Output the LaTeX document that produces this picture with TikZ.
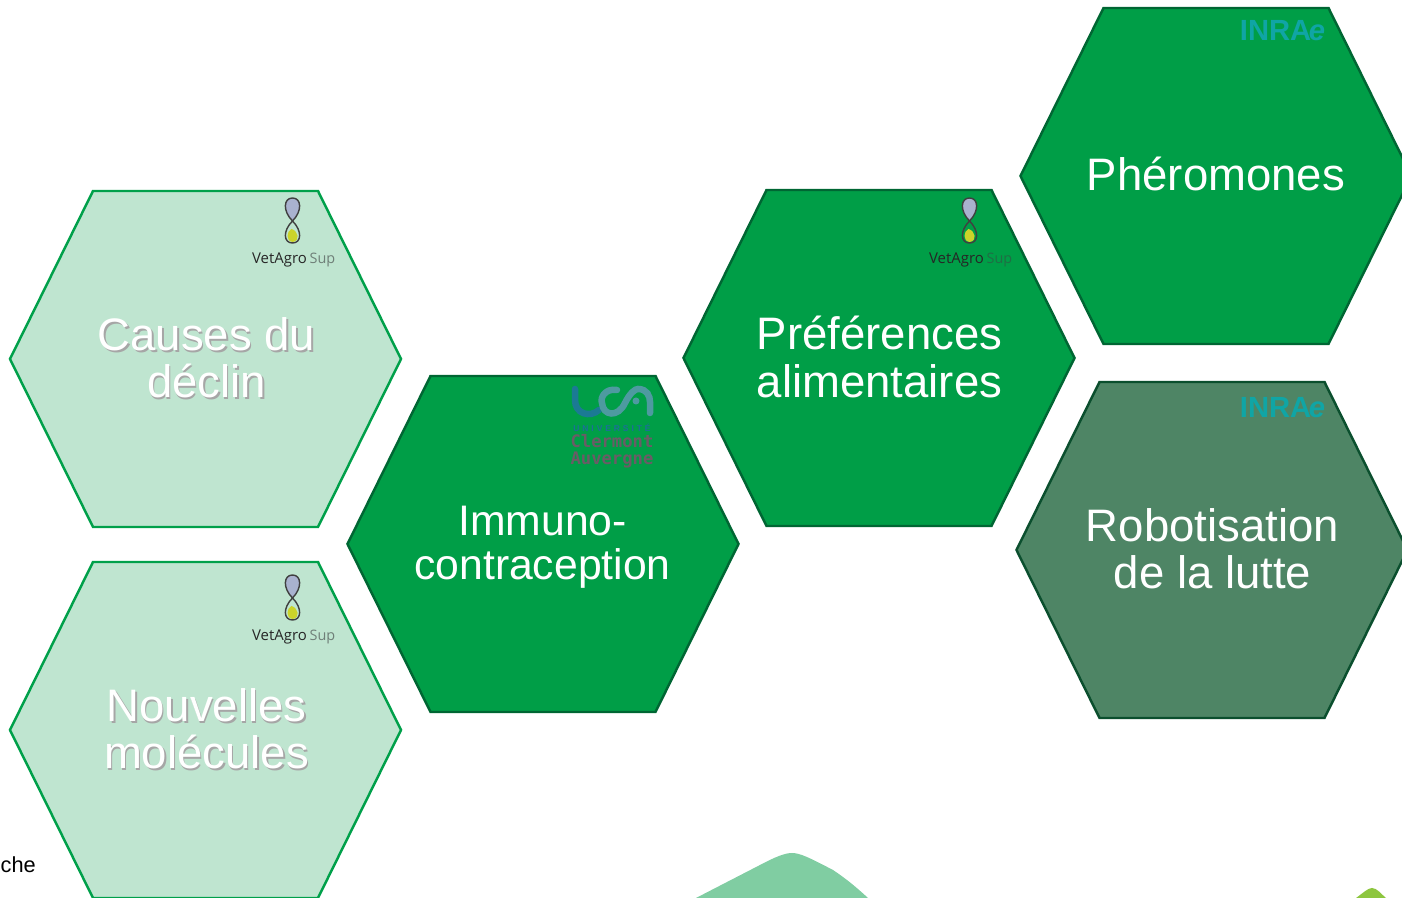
\documentclass[tikz,border=0pt]{standalone}
\usepackage{fontspec}
\setmainfont{Liberation Sans}
\newfontfamily\logofont{Open Sans}
\newfontfamily\spacedfont[LetterSpace=35]{Liberation Sans}
\newfontfamily\ucafont{DejaVu Sans Mono}
\definecolor{hexdark}{HTML}{009E47}
\definecolor{hexdarkline}{HTML}{006633}
\definecolor{hexlight}{HTML}{BFE5D0}
\definecolor{hexlightline}{HTML}{00A04A}
\definecolor{hexmoss}{HTML}{4E8565}
\definecolor{hexmossline}{HTML}{0B4F2E}
\definecolor{inraeteal}{HTML}{10A5A5}
\definecolor{ucablue}{HTML}{1B7A94}
\definecolor{ucateal}{HTML}{4E9AA0}
\definecolor{ucaletter}{HTML}{1C6F98}
\definecolor{ucamauve}{HTML}{6A5C66}
\definecolor{vetdrop}{HTML}{A9B2CF}
\definecolor{vetyellow}{HTML}{CBD32A}
\definecolor{vetsupgrey}{HTML}{6F7F78}
\definecolor{vetsupgreen}{HTML}{1F6E45}
\definecolor{peakgreen}{HTML}{80CDA2}
\definecolor{leafgreen}{HTML}{8DC63F}
\tikzset{
	cell dark/.style={fill=hexdark, draw=hexdarkline, line width=0.7pt},
	cell light/.style={fill=hexlight, draw=hexlightline, line width=0.7pt},
	cell moss/.style={fill=hexmoss, draw=hexmossline, line width=0.7pt},
	cell text/.style={align=center, text=white, font=\fontsize{12.95}{13.4}\selectfont},
	cell shadow/.style={cell text, text=black!35},
	inrae text/.style={text=inraeteal, font=\fontsize{8.3}{9}\selectfont\bfseries},
	pics/vetlogo/.style={code={
		\fill[vetdrop, draw=black!75, line width=0.4pt] (0,.37) .. controls (-.10,.47) and (-.09,.60) .. (0,.60) .. controls (.09,.60) and (.10,.47) .. (0,.37);
		\draw[black!75, line width=0.4pt] (0,.37) .. controls (-.10,.27) and (-.09,.15) .. (0,.15) .. controls (.09,.15) and (.10,.27) .. (0,.37);
		\fill[vetyellow] (0,.16) .. controls (-.07,.17) and (-.06,.27) .. (-.01,.29) .. controls (.06,.27) and (.08,.17) .. (0,.16);
		\node[font=\logofont\fontsize{4.25}{5}\selectfont, text=black!85] at (-.13,-.02) {VetAgro};
		\node[font=\logofont\fontsize{4.1}{5}\selectfont, text=#1] at (.30,-.02) {Sup};
	}},
}
\newcommand{\hexa}[2]{\draw[#1] (#2) ++(-1.955,0) -- ++(0.83,1.68) -- ++(2.25,0) -- ++(0.83,-1.68) -- ++(-0.83,-1.68) -- ++(-2.25,0) -- cycle;}
\begin{document}
\begin{tikzpicture}
	\useasboundingbox (0,0) rectangle (14.02,8.98);
	\clip (0,0) rectangle (14.02,8.98);
	\hexa{cell light}{2.055,5.39}
	\hexa{cell light}{2.055,1.68}
	\hexa{cell dark}{5.43,3.54}
	\hexa{cell dark}{8.79,5.40}
	\hexa{cell dark}{12.16,7.22}
	\hexa{cell moss}{12.12,3.48}
	\node[cell shadow] (causes shadow) at (2.08,5.385) {Causes du\\déclin};
	\node[cell text] (causes) at (2.065,5.40) {Causes du\\déclin};
	\node[cell shadow] (nouvelles shadow) at (2.08,1.675) {Nouvelles\\molécules};
	\node[cell text] (nouvelles) at (2.065,1.69) {Nouvelles\\molécules};
	\node[cell text, font=\fontsize{12.15}{12.6}\selectfont] (immuno) at (5.425,3.51) {Immuno-\\contraception};
	\node[cell text] (preferences) at (8.795,5.41) {Préférences\\alimentaires};
	\node[cell text] (pheromones) at (12.16,7.24) {Phéromones};
	\node[cell text] (robotisation) at (12.125,3.49) {Robotisation\\de la lutte};
	\pic at (2.925,6.40) {vetlogo=vetsupgrey};
	\pic at (2.925,2.63) {vetlogo=vetsupgrey};
	\pic at (9.695,6.40) {vetlogo=vetsupgreen};
	\node[inrae text] (inrae top) at (12.825,8.67) {INRA\kern-.08em\textit{e}};
	\node[inrae text] (inrae bottom) at (12.825,4.90) {INRA\kern-.08em\textit{e}};
	\draw[ucablue, line width=1.85pt, line cap=round] (5.75,5.09) -- (5.75,4.98) .. controls (5.75,4.84) and (5.90,4.80) .. (5.99,4.88);
	\draw[ucateal, line width=1.85pt, line cap=round] (6.17,5.08) .. controls (6.05,5.10) and (6.00,5.00) .. (6.02,4.95) .. controls (6.03,4.82) and (6.18,4.80) .. (6.25,4.95) .. controls (6.30,5.05) and (6.35,5.09) .. (6.38,5.09) .. controls (6.47,5.09) and (6.50,5.02) .. (6.50,4.96) -- (6.50,4.85);
	\fill[ucateal] (6.36,4.97) circle (0.035);
	\node[font=\spacedfont\bfseries\fontsize{2.4}{3}\selectfont, text=ucaletter] (uca top) at (6.12,4.70) {UNIVERSITÉ};
	\node[font=\ucafont\bfseries\fontsize{4.9}{5}\selectfont, text=ucamauve] (uca mid) at (6.12,4.57) {Clermont};
	\node[font=\ucafont\bfseries\fontsize{4.9}{5}\selectfont, text=ucamauve] (uca low) at (6.12,4.38) {Auvergne};
	\fill[peakgreen] (6.96,0) -- (7.6,.33) .. controls (7.75,.41) and (7.85,.45) .. (7.92,.45) .. controls (8.0,.45) and (8.1,.40) .. (8.33,.28) .. controls (8.45,.2) and (8.55,.12) .. (8.68,0) -- cycle;
	\fill[leafgreen] (13.56,0) .. controls (13.63,.05) and (13.68,.10) .. (13.72,.10) .. controls (13.77,.10) and (13.81,.04) .. (13.86,0) -- cycle;
	\node[anchor=west, inner sep=0pt, font=\fontsize{6.2}{7}\selectfont] (che) at (0,0.33) {che};
\end{tikzpicture}
\end{document}
